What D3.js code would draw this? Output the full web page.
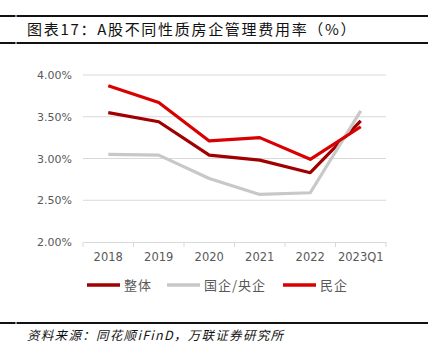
<!DOCTYPE html>
<html><head><meta charset="utf-8">
<script src="https://cdn.jsdelivr.net/npm/d3@7"></script>
<style>body{margin:0;background:#fff;}svg{display:block;}</style>
</head><body>
<svg id="c" width="437" height="356"></svg>
<script>
const categories = ["2018","2019","2020","2021","2022","2023Q1"];
const overall = [3.55, 3.44, 3.04, 2.98, 2.83, 3.45];
const stateOwned = [3.05, 3.04, 2.76, 2.57, 2.59, 3.57];
const privateCo = [3.87, 3.67, 3.21, 3.25, 2.99, 3.38];
const yTicks = [2.0, 2.5, 3.0, 3.5, 4.0];
const seriesNames = ["整体", "国企/央企", "民企"];
const seriesColors = ["#a00000", "#c8c8c8", "#d80000"];

const svg = d3.select("#c");
const font = "'Noto Sans CJK SC', sans-serif";

// header / footer rules
[[16],[43],[323]].forEach(([y]) => {
  svg.append("line").attr("x1",0).attr("x2",428).attr("y1",y).attr("y2",y)
    .attr("stroke","#111").attr("stroke-width",2);
  svg.append("line").attr("x1",16).attr("x2",16).attr("y1",y-1).attr("y2",y+1)
    .attr("stroke","#fff").attr("stroke-width",1);
});
svg.append("text").attr("x",27).attr("y",35).attr("font-family",font)
  .attr("font-size",15).attr("letter-spacing",1.7).attr("fill","#111")
  .text("图表17：A股不同性质房企管理费用率（%）");
svg.append("text").attr("x",27).attr("y",340).attr("font-family",font)
  .attr("font-size",12.5).attr("letter-spacing",1.3).attr("font-style","italic").attr("fill","#111")
  .text("资料来源：同花顺iFinD，万联证券研究所");

const x = d3.scaleBand().domain(categories).range([83, 386]);
const y = d3.scaleLinear().domain([2.0, 4.0]).range([242, 75]);

// gridlines
svg.append("g").selectAll("line").data(yTicks.filter(d=>d>2)).join("line")
  .attr("x1",83).attr("x2",386).attr("y1",d=>y(d)).attr("y2",d=>y(d))
  .attr("stroke","#d9d9d9").attr("stroke-width",1);

const yAxis = svg.append("g").attr("transform","translate(83,0)")
  .call(d3.axisLeft(y).tickValues(yTicks).tickFormat(d=>d3.format(".2f")(d)+"%").tickSize(0).tickPadding(11));
yAxis.select(".domain").remove();
yAxis.selectAll("text").attr("font-family","'DejaVu Sans', sans-serif").attr("font-size",11).attr("fill","#595959");

const xAxis = svg.append("g").attr("transform","translate(0,242)")
  .call(d3.axisBottom(x).tickSizeOuter(0).tickSize(0).tickPadding(11));
xAxis.select(".domain").attr("stroke","#d9d9d9");
xAxis.selectAll("text").attr("font-family","'DejaVu Sans', sans-serif").attr("font-size",11.5).attr("fill","#595959");
// category boundary ticks
const bounds = categories.map(c=>x(c)).concat([x.range()[1]]);
svg.append("g").selectAll("line").data(bounds).join("line")
  .attr("x1",d=>d).attr("x2",d=>d).attr("y1",242).attr("y2",247)
  .attr("stroke","#d9d9d9");

const line = d3.line().x((d,i)=>x(categories[i])+x.bandwidth()/2).y(d=>y(d));
[overall, stateOwned, privateCo].forEach((s,i)=>{
  svg.append("path").datum(s).attr("d",line).attr("fill","none")
    .attr("stroke",seriesColors[i]).attr("stroke-width",3.2).attr("stroke-linejoin","round");
});

// legend
const legX = [87, 167, 283];
seriesNames.forEach((n,i)=>{
  svg.append("line").attr("x1",legX[i]).attr("x2",legX[i]+33).attr("y1",285).attr("y2",285)
    .attr("stroke",seriesColors[i]).attr("stroke-width",3.5);
  svg.append("text").attr("x",legX[i]+37).attr("y",290).attr("font-family",font)
    .attr("font-size",13).attr("letter-spacing",1).attr("fill","#595959").text(n);
});
</script>
</body></html>
